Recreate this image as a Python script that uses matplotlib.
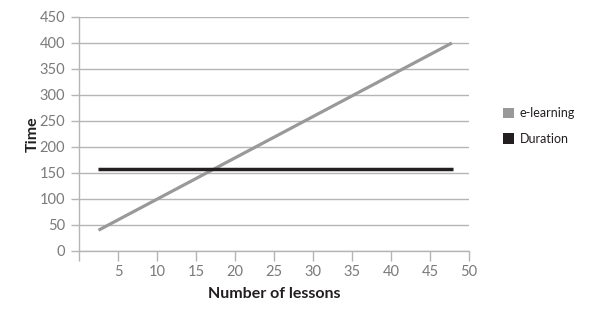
import matplotlib
matplotlib.use('Agg')
from matplotlib import pyplot as plt
from matplotlib.patches import Patch

plt.rcParams['font.family'] = ['Lato', 'DejaVu Sans']

# data
elearn_x = [2.5, 47.8]
elearn_y = [40, 400]
dur_x = [2.5, 48]
dur_y = [158, 158]
xticks = list(range(0, 51, 5))
yticks = list(range(0, 451, 50))

fig = plt.figure(figsize=(6, 3.1), dpi=100)
ax = fig.add_axes([79/600, 59/310, 390/600, 234/310])

ax.plot(elearn_x, elearn_y, color='#999999', lw=2.3, solid_capstyle='butt', zorder=3)
ax.plot(dur_x, dur_y, color='#231f20', lw=2.5, solid_capstyle='butt', zorder=3)

ax.set_xlim(0, 50)
ax.set_ylim(0, 450)
ax.set_xticks(xticks)
ax.set_xticklabels([''] + [str(t) for t in xticks[1:]])
ax.set_yticks(yticks)
ax.yaxis.grid(True, color='#b5b5b5', lw=1)
ax.set_axisbelow(True)

for s in ['top', 'right']:
    ax.spines[s].set_visible(False)
for s in ['left', 'bottom']:
    ax.spines[s].set_color('#b5b5b5')
    ax.spines[s].set_linewidth(1)
ax.tick_params(axis='both', colors='#b5b5b5', labelcolor='#7a7a7a', labelsize=10.5, length=6, width=1)
ax.tick_params(axis='x', length=7, pad=3)
ax.tick_params(axis='y', pad=4)

ax.set_xlabel('Number of lessons', fontsize=11.5, fontweight='bold', color='#231f20', labelpad=6)
ax.set_ylabel('Time', fontsize=11.5, fontweight='bold', color='#231f20', labelpad=0)

handles = [Patch(facecolor='#999999', edgecolor='none', label='e-learning'),
           Patch(facecolor='#231f20', edgecolor='none', label='Duration')]
fig.legend(handles=handles, loc='center left', bbox_to_anchor=(492/600, 1 - 126/310),
           frameon=False, fontsize=9, handlelength=0.9, handleheight=0.9,
           handletextpad=0.4, labelspacing=1.1, labelcolor='#231f20')

fig.savefig('out.png', dpi=100)
